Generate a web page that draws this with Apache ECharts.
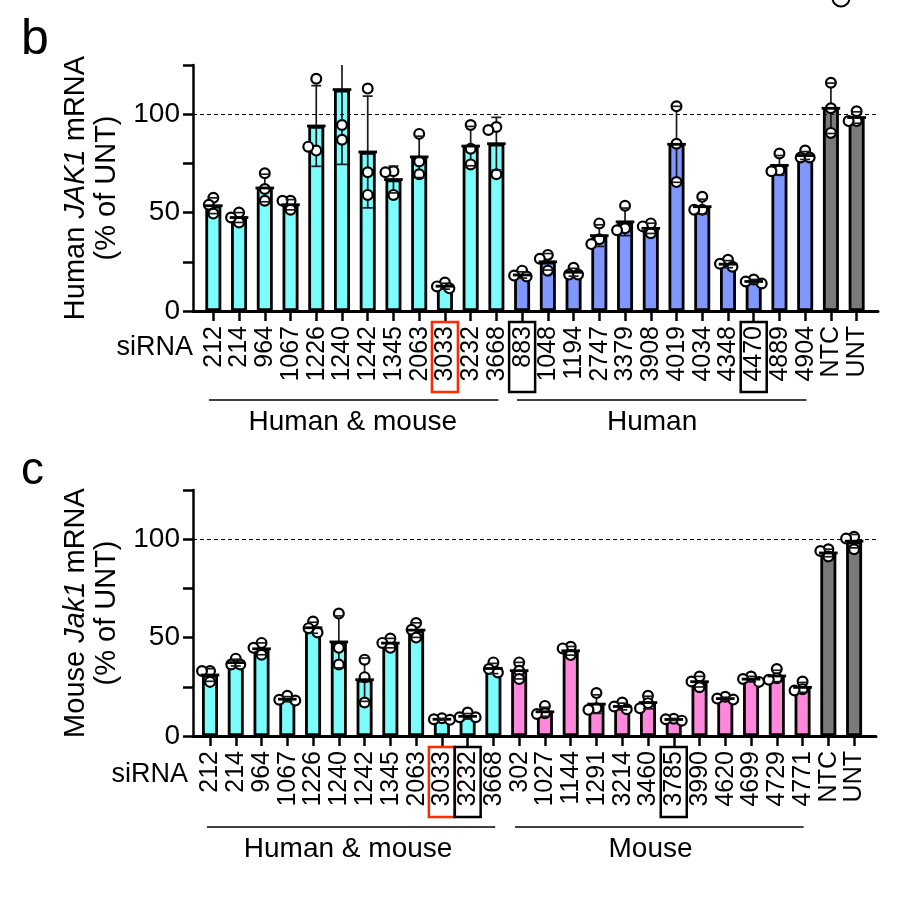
<!DOCTYPE html>
<html><head><meta charset="utf-8">
<script src="https://cdn.jsdelivr.net/npm/echarts@6/dist/echarts.min.js"></script>
<style>html,body{margin:0;padding:0;background:#fff}#c{width:903px;height:906px}</style>
</head><body><div id="c"></div>
<script>
// ---------- Panel b: Human JAK1 ----------
const catsB = ['212','214','964','1067','1226','1240','1242','1345','2063','3033','3232','3668','883','1048','1194','2747','3379','3908','4019','4034','4348','4470','4889','4904','NTC','UNT'];
const groupB = ['hm','hm','hm','hm','hm','hm','hm','hm','hm','hm','hm','hm','h','h','h','h','h','h','h','h','h','h','h','h','ctrl','ctrl'];
const meanB = [53.5, 47.5, 62.5, 54, 94, 112.5, 80.8, 66.8, 78.3, 12.6, 83.8, 85, 18.3, 25, 19.7, 38.3, 45.3, 42, 84.7, 53, 23.8, 15, 74, 79, 103, 98.3];
const sdB = [4, 2.5, 7, 2.6, 20.5, 38, 28.4, 6.8, 10.5, 1.5, 10, 13.4, 1.6, 4.2, 2, 5.5, 7, 2.6, 19.3, 3.8, 1.8, 1, 5, 2, 12.8, 2.9];
const ptsB = [[57.5,54,49.5],[50,47.5,45],[70,62,56],[56,56,51.5],[118,81.5,83.5],[156,94.5,87],[113,70.5,59],[71,70.5,59],[90,76,69.5],[14.5,12.5,11.5],[94.5,82.5,74.5],[93.5,92,69.5],[20.5,18,17.5],[28.5,26.5,20.5],[22,18.5,18.5],[44.5,36.5,34],[53.5,42,41],[44.5,43,39.5],[104,85,65.5],[58,51.5,51.5],[26,24,22.5],[16,15,14],[80,71.5,71],[81.5,78,78],[116,103,90.5],[101.5,96.5,96.5]];
const boxesB = {'3033':'r','883':'k','4470':'k'};

// ---------- Panel c: Mouse Jak1 ----------
const catsC = ['212','214','964','1067','1226','1240','1242','1345','2063','3033','3232','3668','302','1027','1144','1291','3214','3460','3785','3990','4620','4699','4729','4771','NTC','UNT'];
const groupC = ['hm','hm','hm','hm','hm','hm','hm','hm','hm','hm','hm','hm','m','m','m','m','m','m','m','m','m','m','m','m','ctrl','ctrl'];
const meanC = [31, 37.3, 44.3, 18.7, 55, 47.8, 28.6, 47.2, 53.8, 8.5, 10, 34.3, 33.2, 12.3, 43.3, 16.2, 15, 17, 8.4, 27.6, 19, 28.9, 30.5, 24.7, 93, 99];
const sdC = [3.2, 1.7, 3, 1.3, 2.8, 13.2, 11, 2.4, 3.7, 0.4, 1.4, 2.6, 4.2, 2.3, 2.2, 4.7, 1.7, 3.2, 0.5, 2.7, 0.7, 1.4, 2.9, 2.5, 1.9, 3.4];
const ptsC = [[33,33,27.5],[39.3,36.3,36.3],[47.3,44.8,41.3],[20.4,18.4,18],[58.2,54.8,52.6],[62.2,44.8,36.3],[38.8,29.9,17],[49.5,47.3,44.8],[57.4,54,50],[9,8.5,8.2],[11.9,9.5,9.5],[37.4,34,32.3],[37.4,33.1,29],[15.3,11.5,11.2],[45.3,44.5,41.1],[21.8,14.1,13.3],[17,15,13.6],[20.4,16.7,14.1],[8.8,8.5,7.8],[30.2,27.7,24.8],[19.9,19,18.5],[30.2,29,27.5],[34,29.4,28.6],[27.7,23.8,23.1],[94.9,94,91.2],[101.2,100.3,94.9]];
const boxesC = {'3033':'r','3232':'k','3785':'k'};

const yTicks = [0, 50, 100];
const YMAX = 125;

const FONT = '"Liberation Sans", Arial, Helvetica, sans-serif';
const COL = {hm:'#7bfdfd', h:'#7f97ff', m:'#ff88dc', ctrl:'#7a7a7a'};

const chart = echarts.init(document.getElementById('c'));

function barData(means, groups){ return means.map((v,i)=>({value:[i,v], itemStyle:{color:COL[groups[i]]}})); }
function extraData(means, sds, pts){ return means.map((v,i)=>[i, v, sds[i], pts[i][0], pts[i][1], pts[i][2]]); }

function renderExtra(params, api){
  const i = api.value(0), m = api.value(1), sd = api.value(2);
  const c = api.coord([i, m]);
  const top = api.coord([i, Math.min(m+sd, YMAX)]);
  const bot = api.coord([i, Math.max(m-sd, 0)]);
  const ch = [];
  ch.push({type:'line', shape:{x1:c[0], y1:top[1], x2:c[0], y2:bot[1]}, style:{stroke:'#1a1a1a', lineWidth:1.7}});
  const placed = [];
  const offs = [0,-4.5,4.5,-8,8];
  for (let k=3;k<6;k++){
    const val = api.value(k);
    if (val > YMAX) continue;
    const p = api.coord([i, val]);
    let ox = 0;
    for (const o of offs){
      if (placed.every(q => Math.hypot(q[0]-(p[0]+o), q[1]-p[1]) >= 7)) { ox = o; break; }
    }
    placed.push([p[0]+ox, p[1]]);
  }
  placed.forEach(q => ch.push({type:'circle', shape:{cx:q[0], cy:q[1], r:4.9}, style:{fill:'#fff', stroke:'#000', lineWidth:2.2}}));
  ch.push({type:'line', shape:{x1:c[0]-9.3, y1:c[1], x2:c[0]+9.3, y2:c[1]}, style:{stroke:'#000', lineWidth:2.8}});
  if (m+sd <= YMAX) ch.push({type:'line', shape:{x1:c[0]-5, y1:top[1], x2:c[0]+5, y2:top[1]}, style:{stroke:'#1a1a1a', lineWidth:1.7}});
  ch.push({type:'line', shape:{x1:c[0]-5, y1:bot[1], x2:c[0]+5, y2:bot[1]}, style:{stroke:'#1a1a1a', lineWidth:1.7}});
  return {type:'group', children:ch};
}

function labelFmt(cats, boxes){
  return v => {
    if (!Number.isInteger(v)) return '';
    const s = cats[v]; if (s === undefined) return '';
    const b = boxes[s] || 'n'; return '{' + b + '|' + s + '}';
  };
}
const baseRich = {fontSize:25, fontFamily:FONT, color:'#000', width:62, align:'right', padding:[1,4,0,4], lineHeight:22.5};
const rich = {n:{...baseRich}, r:{...baseRich, borderWidth:2.5, borderColor:'#ff2a00'}, k:{...baseRich, borderWidth:2.5, borderColor:'#000'}};

function xAxisCfg(gridIndex, cats, boxes, min, max){
  const idx = cats.map((_,i)=>i);
  return {
    type:'value', gridIndex, min, max,
    axisLine:{show:true, onZero:false, lineStyle:{color:'#000', width:3}},
    axisTick:{show:true, customValues:idx, length:10, lineStyle:{color:'#000', width:2.5}},
    axisLabel:{show:true, customValues:[min].concat(idx, [max]), rotate:90, margin:11,
      showMinLabel:false, showMaxLabel:false, hideOverlap:false,
      formatter:labelFmt(cats, boxes), rich},
    splitLine:{show:false}
  };
}
function yAxisCfg(gridIndex, nameRich){
  return {
    type:'value', gridIndex, min:0, max:YMAX, interval:25,
    axisLine:{show:true, onZero:false, lineStyle:{color:'#000', width:2.5}},
    axisTick:{show:true, length:10, lineStyle:{color:'#000', width:2.5}},
    axisLabel:{fontSize:28, fontFamily:FONT, color:'#000', margin:13, formatter: v => yTicks.includes(v) ? String(v) : ''},
    splitLine:{show:false},
    name: nameRich, nameLocation:'middle', nameRotate:90, nameGap:70,
    nameTextStyle:{fontSize:29, fontFamily:FONT, color:'#000', lineHeight:31, align:'center',
      rich:{n:{fontSize:29, fontFamily:FONT, color:'#000', lineHeight:31}, i:{fontSize:29, fontFamily:FONT, color:'#000', fontStyle:'italic', lineHeight:31}}}
  };
}
const refLine = {symbol:'none', silent:true, label:{show:false}, lineStyle:{type:[4,3], color:'#000', width:1.2}, data:[{yAxis:100}]};

chart.setOption({
  animation:false,
  backgroundColor:'#fff',
  grid:[
    {left:193, top:65, width:685, height:246},
    {left:193, top:490, width:683, height:246}
  ],
  xAxis:[
    xAxisCfg(0, catsB, boxesB, -0.79, 25.83),
    xAxisCfg(1, catsC, boxesC, -0.66, 25.85)
  ],
  yAxis:[
    yAxisCfg(0, '{n|Human }{i|JAK1}{n| mRNA}\n{n|(% of UNT)}'),
    yAxisCfg(1, '{n|Mouse }{i|Jak1}{n| mRNA}\n{n|(% of UNT)}')
  ],
  series:[
    {type:'bar', xAxisIndex:0, yAxisIndex:0, barWidth:16, data:barData(meanB, groupB),
     itemStyle:{borderColor:'#000', borderWidth:2.8}, markLine:refLine},
    {type:'custom', xAxisIndex:0, yAxisIndex:0, z:5, clip:true, renderItem:renderExtra, encode:{x:0, y:1}, data:extraData(meanB, sdB, ptsB)},
    {type:'bar', xAxisIndex:1, yAxisIndex:1, barWidth:16, data:barData(meanC, groupC),
     itemStyle:{borderColor:'#000', borderWidth:2.8}, markLine:refLine},
    {type:'custom', xAxisIndex:1, yAxisIndex:1, z:5, clip:true, renderItem:renderExtra, encode:{x:0, y:1}, data:extraData(meanC, sdC, ptsC)}
  ]
});

const px = (axis, v) => chart.convertToPixel({xAxisIndex:axis}, v);
const txt = (x, y, s, size, align) => ({type:'text', x, y, style:{text:s, fontSize:size, fontFamily:FONT, fill:'#000', align:align||'center', verticalAlign:'middle'}});
const ln = (x1, x2, y) => ({type:'line', shape:{x1, y1:y, x2, y2:y}, style:{stroke:'#000', lineWidth:1.5}});

chart.setOption({
  graphic:[
    txt(21, 40, 'b', 50, 'left'),
    txt(21, 471, 'c', 46, 'left'),
    txt(193, 348, 'siRNA', 27, 'right'),
    txt(188, 775, 'siRNA', 27, 'right'),
    ln(px(0,-0.17), px(0,11.08), 400),
    ln(px(0,11.8), px(0,23.05), 400),
    txt(px(0,5.42), 422, 'Human & mouse', 28),
    txt(px(0,17.05), 422, 'Human', 28),
    ln(px(1,-0.12), px(1,11.07), 827),
    ln(px(1,11.84), px(1,23.04), 827),
    txt(px(1,5.36), 849, 'Human & mouse', 28),
    txt(px(1,17.1), 849, 'Mouse', 28),
    {type:'circle', shape:{cx:841, cy:-2, r:8.5}, style:{fill:'none', stroke:'#000', lineWidth:2}}
  ]
});
</script></body></html>
